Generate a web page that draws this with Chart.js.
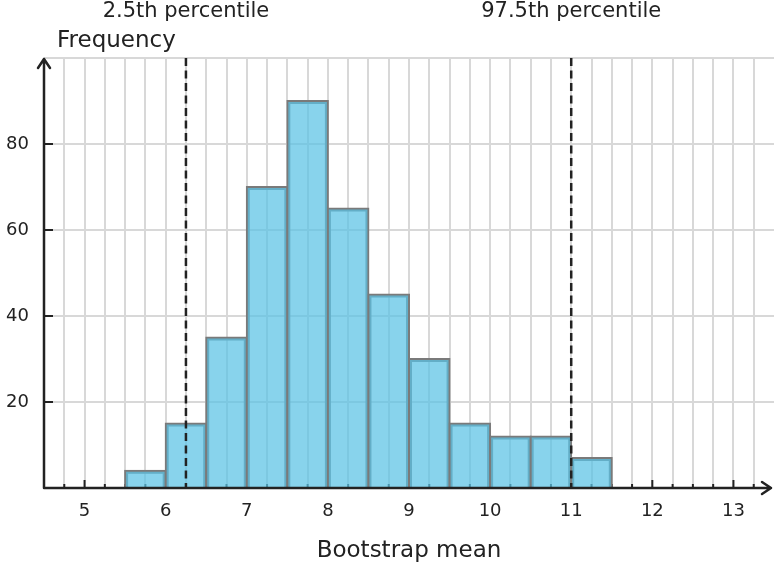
<!DOCTYPE html>
<html>
<head>
<meta charset="utf-8">
<script src="https://cdn.jsdelivr.net/npm/chart.js@4.4.0/dist/chart.umd.min.js"></script>
<style>
  html, body { margin: 0; padding: 0; background: #fff; }
  #wrap { width: 777px; height: 569px; }
</style>
</head>
<body>
<div id="wrap"><canvas id="histChart"></canvas></div>
<script>
// ===== bootstrap histogram data =====
const binStarts = [5.5, 6, 6.5, 7, 7.5, 8, 8.5, 9, 9.5, 10, 10.5, 11];
const binWidth = 0.5;
const frequencies = [4, 15, 35, 70, 90, 65, 45, 30, 15, 12, 12, 7];
const percentileValues = [6.25, 11];
const percentileLabels = ['2.5th percentile', '97.5th percentile'];
const xTickLabels = [5, 6, 7, 8, 9, 10, 11, 12, 13];
const yTickLabels = [20, 40, 60, 80];

const FONT = 'DejaVu Sans';
const INK = '#222';
const GRID = '#d8d8d8';
const CLEAR = 'rgba(0,0,0,0)';
const X_STEP = 0.25;   // grid spacing; chart.js sizes bars by the smallest tick gap

// tick marks, axes with arrows, percentile lines
const axisDecor = {
  id: 'axisDecor',
  beforeDatasetsDraw(chart) {
    const { ctx, chartArea: a, scales: { x, y } } = chart;
    ctx.save();
    ctx.strokeStyle = INK;
    ctx.lineWidth = 2;
    x.ticks.forEach(t => {
      if (t.value <= x.min || t.value >= x.max) return;
      const px = x.getPixelForValue(t.value);
      const len = Number.isInteger(Math.round(t.value * 1000) / 1000) ? 8 : 4;
      ctx.beginPath(); ctx.moveTo(px, a.bottom); ctx.lineTo(px, a.bottom - len); ctx.stroke();
    });
    y.ticks.forEach(t => {
      if (!yTickLabels.includes(t.value)) return;
      const py = y.getPixelForValue(t.value);
      ctx.beginPath(); ctx.moveTo(a.left, py); ctx.lineTo(a.left + 9, py); ctx.stroke();
    });
    ctx.restore();
  },
  afterDatasetsDraw(chart) {
    const { ctx, chartArea: a, scales: { x } } = chart;
    ctx.save();
    // percentile lines
    ctx.strokeStyle = INK;
    ctx.lineWidth = 2.5;
    ctx.setLineDash([8, 4.5]);
    percentileValues.forEach(v => {
      const px = x.getPixelForValue(v);
      ctx.beginPath(); ctx.moveTo(px, a.top); ctx.lineTo(px, a.bottom); ctx.stroke();
    });
    ctx.setLineDash([]);

    // axes
    ctx.lineWidth = 2.5;
    ctx.lineCap = 'round';
    ctx.lineJoin = 'round';
    const tipX = a.right - 3, tipY = a.top + 1;
    ctx.beginPath();
    ctx.moveTo(a.left, a.bottom); ctx.lineTo(tipX, a.bottom);
    ctx.moveTo(tipX - 9, a.bottom - 6); ctx.lineTo(tipX, a.bottom); ctx.lineTo(tipX - 9, a.bottom + 6);
    ctx.moveTo(a.left, a.bottom); ctx.lineTo(a.left, tipY);
    ctx.moveTo(a.left - 6, tipY + 9); ctx.lineTo(a.left, tipY); ctx.lineTo(a.left + 6, tipY + 9);
    ctx.stroke();

    // labels
    ctx.fillStyle = INK;
    ctx.textAlign = 'center';
    ctx.textBaseline = 'middle';
    ctx.font = '21px "' + FONT + '"';
    percentileValues.forEach((v, i) => {
      ctx.fillText(percentileLabels[i], x.getPixelForValue(v), 12);
    });
    ctx.font = '23px "' + FONT + '"';
    ctx.textAlign = 'left';
    ctx.fillText('Frequency', a.left + 13, 41);
    ctx.restore();
  }
};

new Chart(document.getElementById('histChart'), {
  type: 'bar',
  data: {
    datasets: [{
      label: 'Frequency',
      data: binStarts.map((s, i) => ({ x: s + binWidth / 2, y: frequencies[i] })),
      backgroundColor: 'rgba(90,194,228,0.72)',
      borderColor: '#7a7a7a',
      borderWidth: 2,
      inflateAmount: 1,   // borders of neighbouring bins overlap into one line
      barPercentage: binWidth / X_STEP,
      categoryPercentage: 1
    }]
  },
  options: {
    responsive: true,
    maintainAspectRatio: false,
    animation: false,
    layout: { padding: { top: 58, right: 3, left: 0, bottom: 0 } },
    plugins: { legend: { display: false }, tooltip: { enabled: false } },
    scales: {
      x: {
        type: 'linear',
        min: 4.5,
        max: 13.5,
        offset: false,
        afterFit: s => { s.height = 81; s.paddingLeft = 0; s.paddingRight = 0; },
        border: { display: false },
        grid: {
          offset: false,
          drawTicks: false,
          lineWidth: 2,
          color: c => (!c.tick || c.tick.value <= 4.5 || c.tick.value >= 13.5) ? CLEAR : GRID
        },
        ticks: {
          stepSize: X_STEP,
          autoSkip: false,
          maxRotation: 0,
          padding: 13,
          color: INK,
          font: { family: FONT, size: 18 },
          callback: v => xTickLabels.includes(Math.round(v * 1000) / 1000) ? String(Math.round(v)) : ''
        },
        title: {
          display: true,
          text: 'Bootstrap mean',
          color: INK,
          font: { family: FONT, size: 23 },
          padding: { top: 0, bottom: 4 }
        }
      },
      y: {
        min: 0,
        max: 100,
        afterFit: s => { s.width = 44; s.paddingTop = 0; s.paddingBottom = 0; },
        border: { display: false },
        grid: {
          drawTicks: false,
          lineWidth: 2,
          color: c => (!c.tick || c.tick.value <= 0) ? CLEAR : GRID
        },
        ticks: {
          stepSize: 20,
          padding: 15,
          color: INK,
          font: { family: FONT, size: 18 },
          callback: v => yTickLabels.includes(v) ? String(v) : ''
        }
      }
    }
  },
  plugins: [axisDecor]
});
</script>
</body>
</html>
